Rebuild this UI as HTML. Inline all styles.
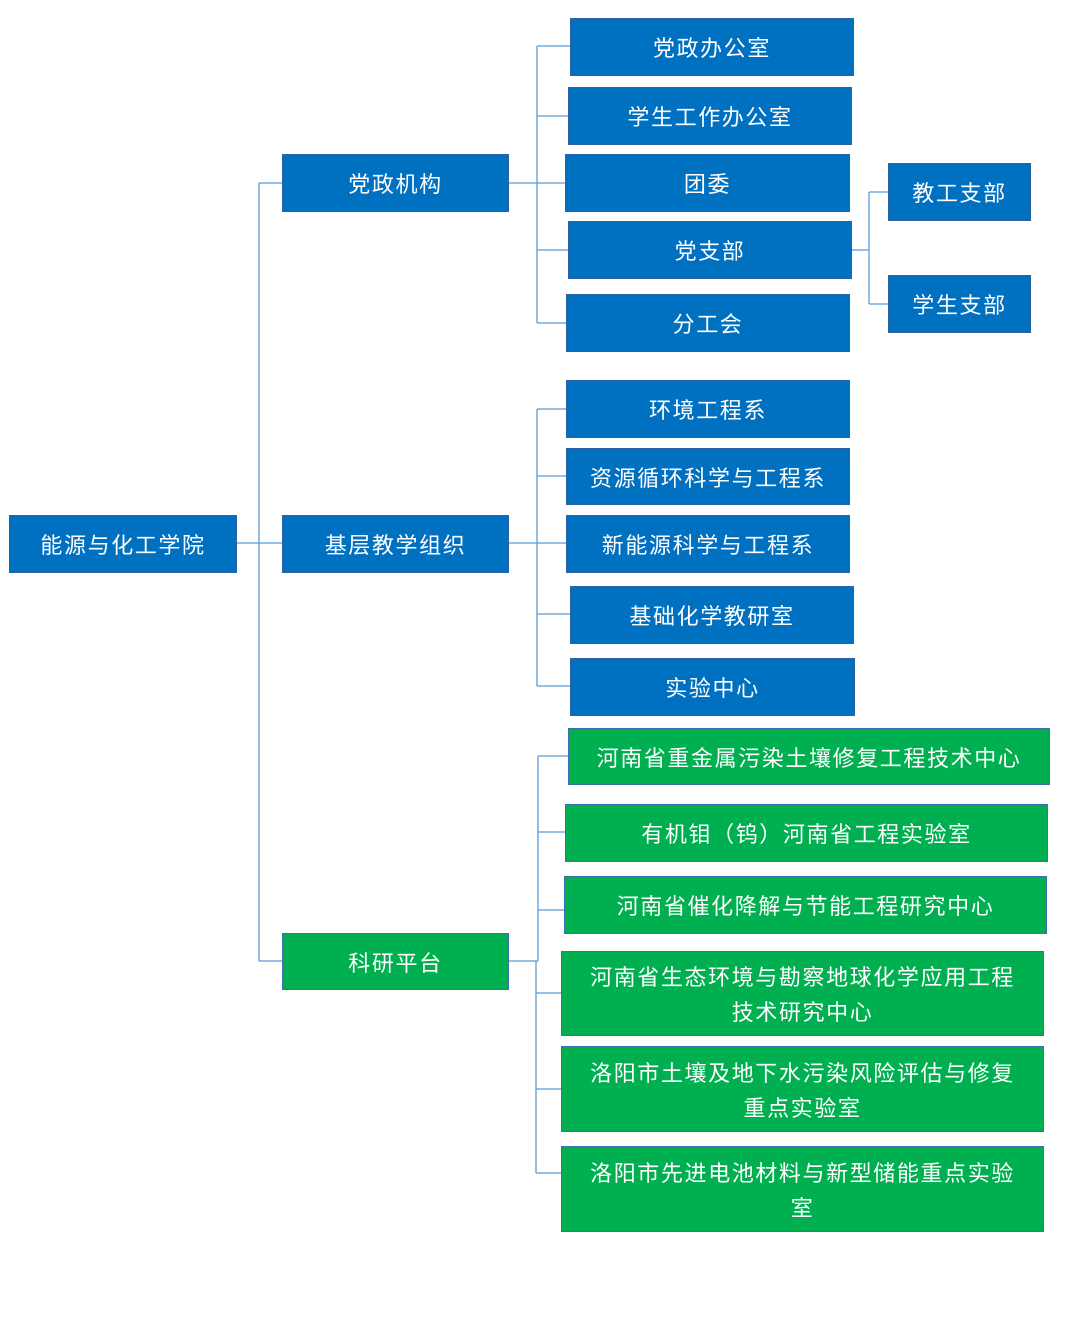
<!DOCTYPE html>
<html><head><meta charset="utf-8">
<style>
body{margin:0;width:1078px;height:1331px;background:#fff;position:relative;overflow:hidden;font-family:"Liberation Sans","Noto Sans CJK SC",sans-serif;}
.b{position:absolute;box-sizing:border-box;border:1.5px solid #2F5597;color:#fff;font-size:22px;letter-spacing:1.6px;display:flex;align-items:center;justify-content:center;text-align:center;line-height:35px;padding-top:3px;}
.u{background:#0070C0;border-color:#2E62A6;}
.g{background:#00B050;border-color:#3A6FB0;}
svg{position:absolute;left:0;top:0;}
</style></head><body>
<svg width="1078" height="1331">
<g stroke="#5B9BD5" stroke-width="1.3" fill="none">
<path d="M236 543H282M259 183V961M259 183H282M259 961H282"/>
<path d="M508 183H566M537 46V323M537 46H570M537 116H568M537 250H568M537 323H566"/>
<path d="M851 250H869M869 192V304M869 192H888M869 304H888"/>
<path d="M508 543H566M537 409V686M537 409H566M537 476H566M537 614H570M537 686H570"/>
<path d="M508 961H538M538 756V961M538 756H568M538 832H565M538 910H564M536 961V1173M536 993H561M536 1089H561M536 1173H561"/>
</g></svg>
<div class="b u" style="left:9px;top:515px;width:228px;height:58px">能源与化工学院</div>
<div class="b u" style="left:282px;top:154px;width:227px;height:58px">党政机构</div>
<div class="b u" style="left:282px;top:515px;width:227px;height:58px">基层教学组织</div>
<div class="b g" style="left:282px;top:933px;width:227px;height:57px">科研平台</div>

<div class="b u" style="left:570px;top:18px;width:284px;height:58px">党政办公室</div>
<div class="b u" style="left:568px;top:87px;width:284px;height:58px">学生工作办公室</div>
<div class="b u" style="left:565px;top:154px;width:285px;height:58px">团委</div>
<div class="b u" style="left:568px;top:221px;width:284px;height:58px">党支部</div>
<div class="b u" style="left:566px;top:294px;width:284px;height:58px">分工会</div>
<div class="b u" style="left:888px;top:163px;width:143px;height:58px">教工支部</div>
<div class="b u" style="left:888px;top:275px;width:143px;height:58px">学生支部</div>

<div class="b u" style="left:566px;top:380px;width:284px;height:58px">环境工程系</div>
<div class="b u" style="left:566px;top:448px;width:284px;height:57px">资源循环科学与工程系</div>
<div class="b u" style="left:566px;top:515px;width:284px;height:58px">新能源科学与工程系</div>
<div class="b u" style="left:570px;top:586px;width:284px;height:58px">基础化学教研室</div>
<div class="b u" style="left:570px;top:658px;width:285px;height:58px">实验中心</div>

<div class="b g" style="left:568px;top:728px;width:482px;height:57px">河南省重金属污染土壤修复工程技术中心</div>
<div class="b g" style="left:565px;top:804px;width:483px;height:58px">有机钼（钨）河南省工程实验室</div>
<div class="b g" style="left:564px;top:876px;width:483px;height:58px">河南省催化降解与节能工程研究中心</div>
<div class="b g" style="left:561px;top:951px;width:483px;height:85px">河南省生态环境与勘察地球化学应用工程<br>技术研究中心</div>
<div class="b g" style="left:561px;top:1046px;width:483px;height:86px">洛阳市土壤及地下水污染风险评估与修复<br>重点实验室</div>
<div class="b g" style="left:561px;top:1146px;width:483px;height:86px">洛阳市先进电池材料与新型储能重点实验<br>室</div>
</body></html>
